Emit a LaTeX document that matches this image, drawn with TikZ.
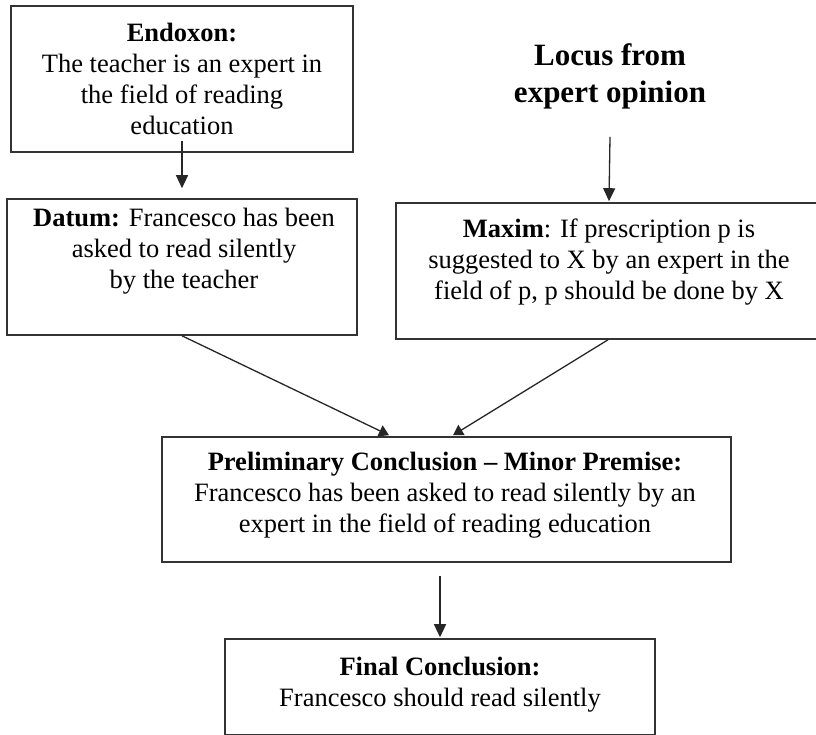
\documentclass[tikz,border=0pt]{standalone}
\usepackage{fontspec}
\setmainfont{Liberation Serif}
\usetikzlibrary{arrows.meta}

\tikzset{
  box/.style={draw=black!80, line width=1.6pt, inner sep=0pt},
  txt/.style={inner sep=0pt, align=center, font=\fontsize{26.5}{31}\selectfont},
  heading/.style={inner sep=0pt, align=center, font=\fontsize{31}{37}\selectfont\bfseries},
  arr/.style={draw=black!85, line width=1.3pt, -{Triangle[width=12pt,length=13pt]}},
  link/.style={draw=black!85, line width=1.3pt, -{Triangle[width=12pt,length=10pt]}}
}

\begin{document}
\begin{tikzpicture}[x=1pt, y=-1pt]
  \path[use as bounding box] (0,0) rectangle (816,735);
  \clip (0,0) rectangle (816,735);

  % boxes
  \node[box, minimum width=342pt, minimum height=146pt] (endoxonBox) at (182,79) {};
  \node[box, minimum width=350pt, minimum height=136pt] (datumBox) at (182,267) {};
  \node[box, minimum width=426pt, minimum height=136pt] (maximBox) at (609,271) {};
  \node[box, minimum width=569pt, minimum height=125pt] (prelimBox) at (446.5,499.5) {};
  \node[box, minimum width=430pt, minimum height=96pt] (finalBox) at (440,687) {};

  % texts
  \node[txt] (endoxonText) at (182,79)
    {\textbf{Endoxon:}\\The teacher is an expert in\\the field of reading\\education};
  \node[txt] (datumText) at (184,251)
    {\textbf{Datum:} Francesco has been\\asked to read silently\\by the teacher};
  \node[txt] (maximText) at (609,262)
    {\textbf{Maxim}: If prescription p is\\suggested to X by an expert in the\\field of p, p should be done by X};
  \node[heading] (locus) at (610,76) {Locus from\\expert opinion};
  \node[txt] (prelimText) at (445,495)
    {\textbf{Preliminary Conclusion – Minor Premise:}\\Francesco has been asked to read silently by an\\expert in the field of reading education};
  \node[txt] (finalText) at (440,685)
    {\textbf{Final Conclusion:}\\Francesco should read silently};

  % connectors
  \draw[arr] ([yshift=12pt]endoxonBox.south) -- ([yshift=10pt]datumBox.north);
  \draw[arr] ([yshift=-28pt]locus.south) -- ([yshift=1pt]maximBox.north);
  \draw[link] (datumBox.south) -- ([xshift=-57.5pt,yshift=1pt]prelimBox.north);
  \draw[link] ([xshift=-1pt]maximBox.south) -- ([xshift=6.5pt,yshift=1pt]prelimBox.north);
  \draw[arr] ([xshift=-6.5pt,yshift=-13pt]prelimBox.south) -- ([yshift=1pt]finalBox.north);
\end{tikzpicture}
\end{document}
